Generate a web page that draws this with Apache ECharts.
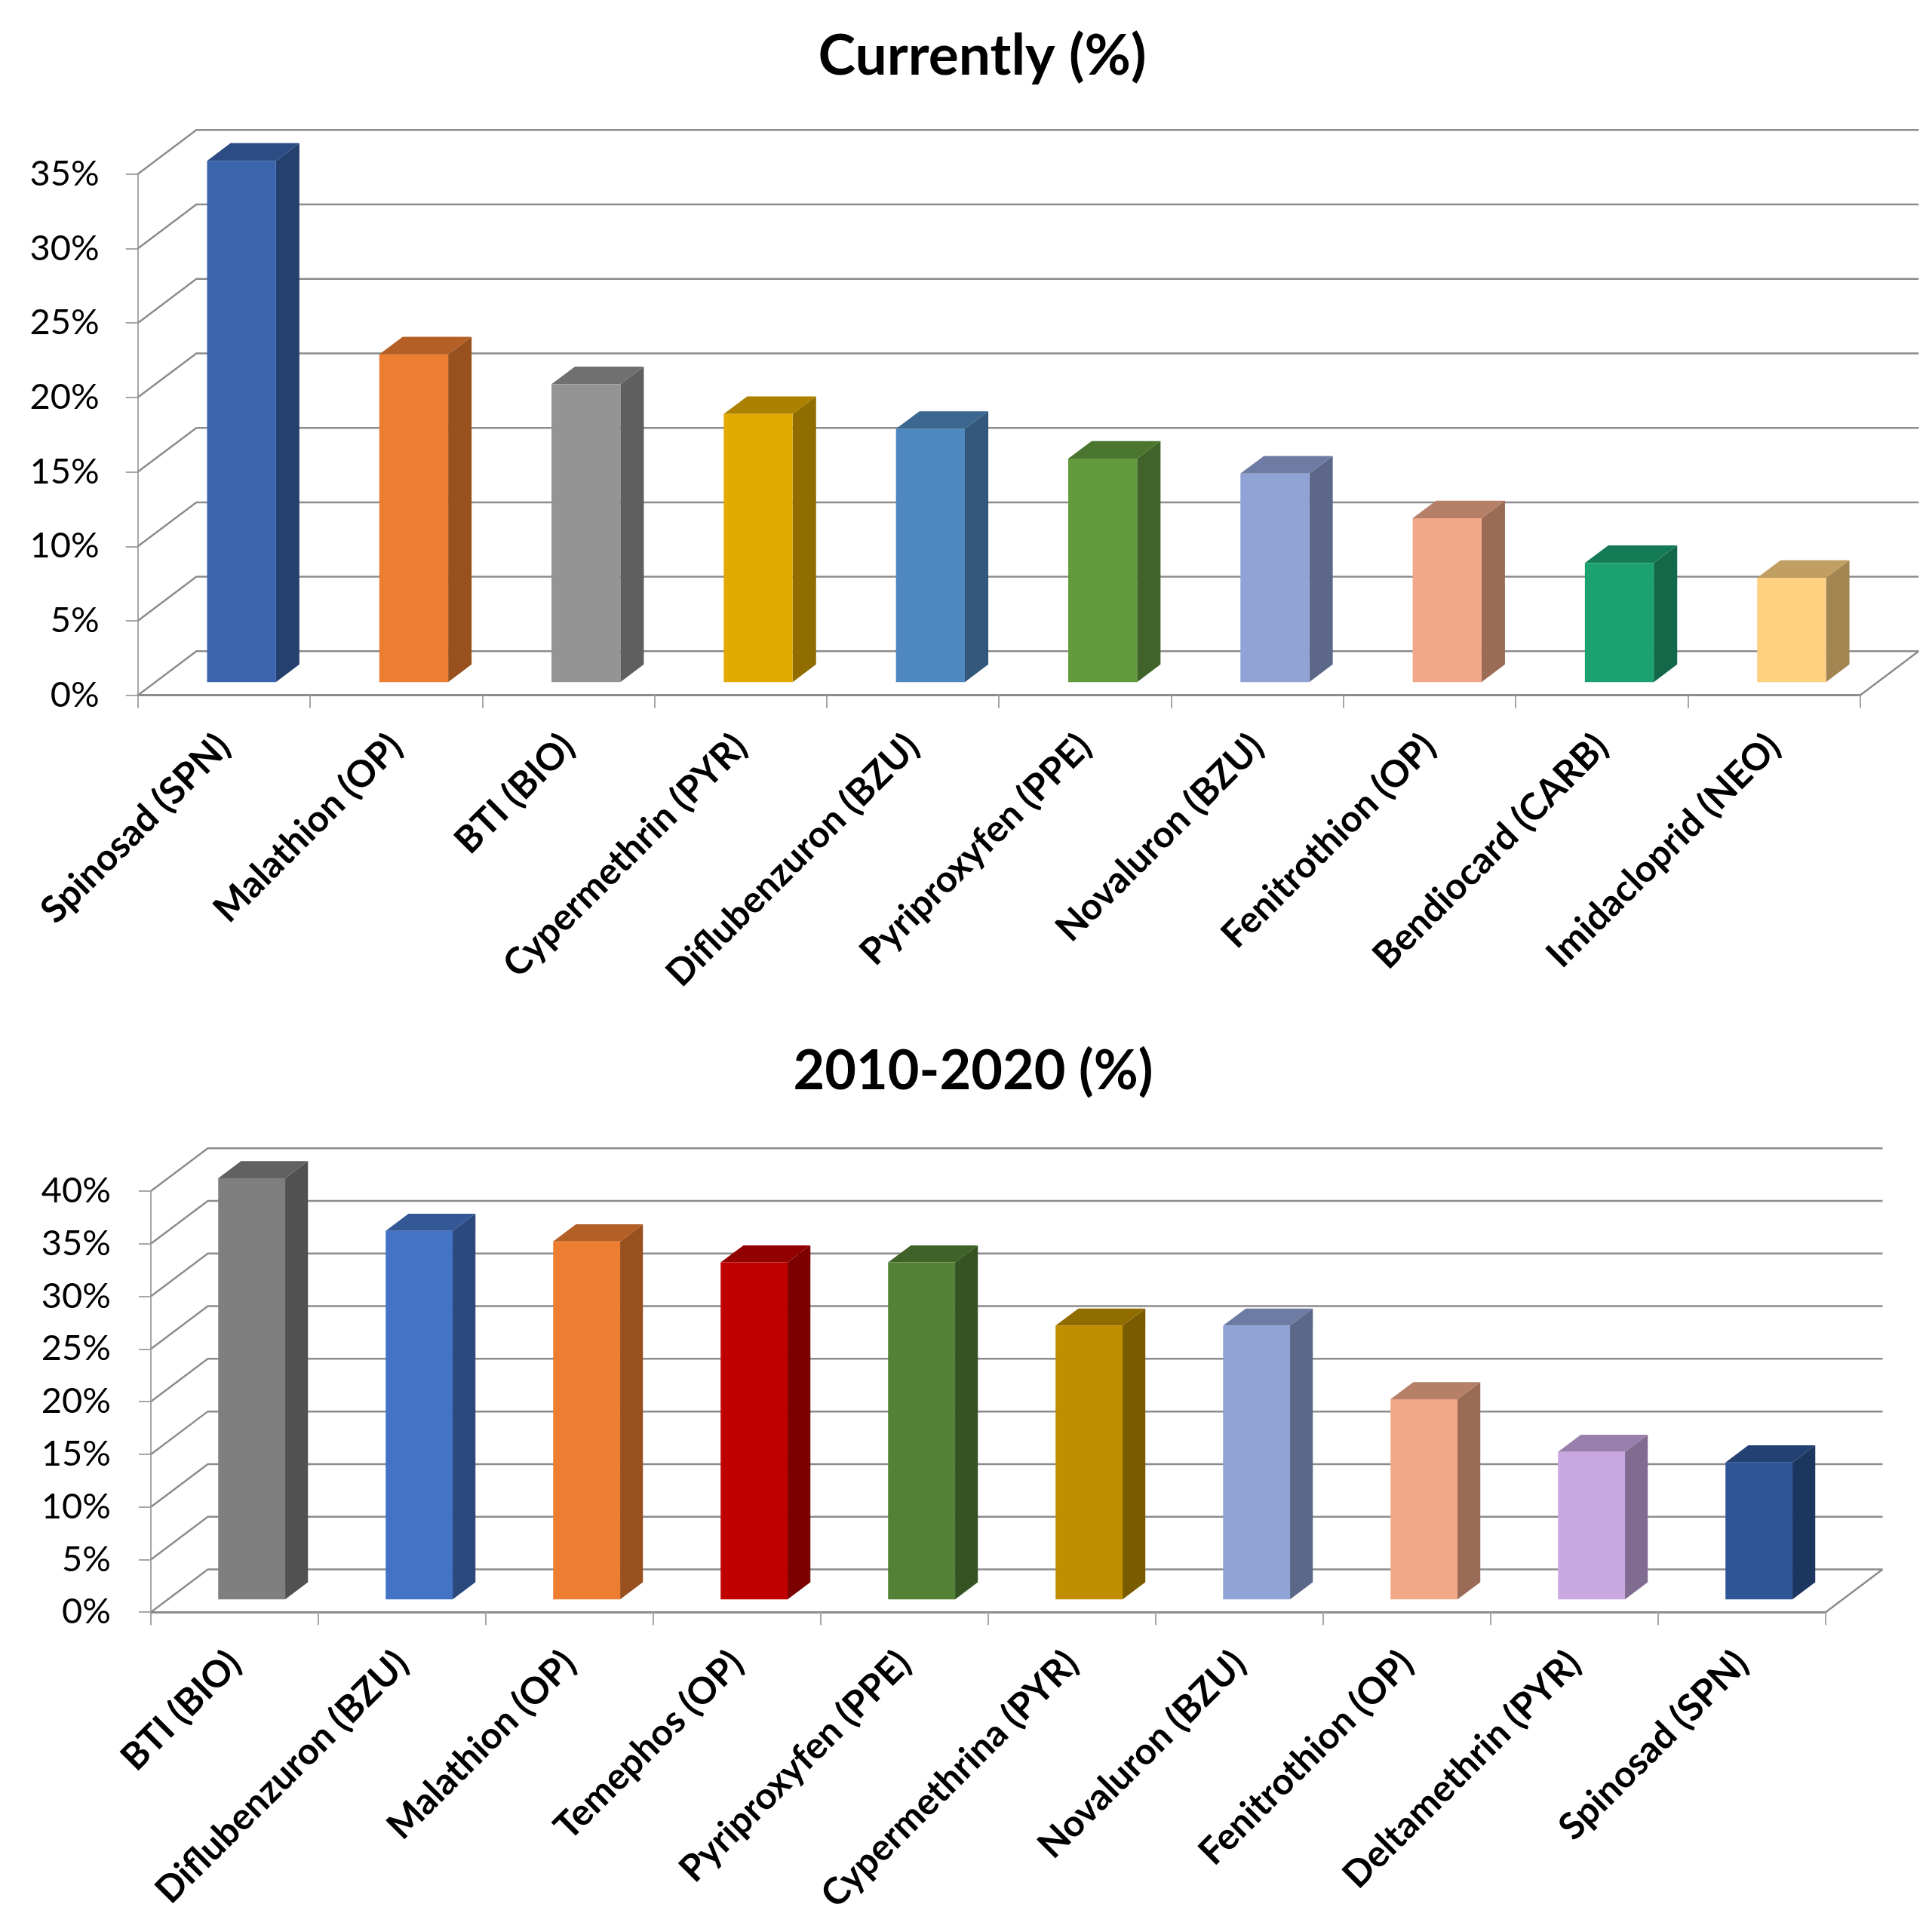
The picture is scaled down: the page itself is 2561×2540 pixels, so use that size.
<!DOCTYPE html>
<html>
<head>
<meta charset="utf-8">
<title>Insecticide use</title>
<script src="https://cdn.jsdelivr.net/npm/echarts@6/dist/echarts.min.js"></script>
<style>
  html, body { margin: 0; padding: 0; background: #ffffff; }
  #chart { width: 2561px; height: 2540px; }
</style>
</head>
<body>
<div id="chart"></div>
<script>
// Insecticides in use now
const currentCategories = ['Spinosad (SPN)', 'Malathion (OP)', 'BTI (BIO)', 'Cypermethrin (PYR)', 'Diflubenzuron (BZU)',
  'Pyriproxyfen (PPE)', 'Novaluron (BZU)', 'Fenitrothion (OP)', 'Bendiocard (CARB)', 'Imidacloprid (NEO)'];
const currentValues = [35, 22, 20, 18, 17, 15, 14, 11, 8, 7];

// Insecticides used during 2010-2020
const decadeCategories = ['BTI (BIO)', 'Diflubenzuron (BZU)', 'Malathion (OP)', 'Temephos (OP)', 'Pyriproxyfen (PPE)',
  'Cypermethrina (PYR)', 'Novaluron (BZU)', 'Fenitrothion (OP)', 'Deltamethrin (PYR)', 'Spinosad (SPN)'];
const decadeValues = [40, 35, 34, 32, 32, 26, 26, 19, 14, 13];

// Value-axis ticks (percent)
const currentTicks = [0, 5, 10, 15, 20, 25, 30, 35];
const decadeTicks = [0, 5, 10, 15, 20, 25, 30, 35, 40];

// Front-face colours of the columns
const currentColors = ['#3A64AD', '#ED7D31', '#949494', '#E2AA00', '#4F88BE', '#629B3E', '#91A3D6', '#F0A889', '#1CA271', '#FED080'];
const decadeColors = ['#7F7F7F', '#4472C4', '#ED7D31', '#C00000', '#538135', '#BF8F00', '#8FA3D6', '#F0A889', '#C9A8E2', '#2E5596'];

// Oblique 3-D projection: depth expressed as a share of a category band
const DEPTH_RATIO = 0.34;   // horizontal depth offset / band width
const DEPTH_SLOPE = 0.752;  // vertical rise per horizontal depth unit
const BAR_WIDTH = 0.4;      // column width / band width
const BAR_FRONT = 0.3;      // column front plane (share of floor depth)
const BAR_BACK = 0.7;       // column back plane
const SIDE_SHADE = 0.64;
const TOP_SHADE = 0.76;

const FONT = 'Lato, "Open Sans", sans-serif';
const GRID_COLOR = '#8c8c8c';
const AXIS_COLOR = '#a6a6a6';

function shade(hex, k) {
  const n = parseInt(hex.slice(1), 16);
  const r = Math.round(((n >> 16) & 255) * k);
  const g = Math.round(((n >> 8) & 255) * k);
  const b = Math.round((n & 255) * k);
  return 'rgb(' + r + ',' + g + ',' + b + ')';
}

function depthOf(api) {
  const band = api.size([1, 0])[0];
  const dx = DEPTH_RATIO * band;
  return { band: band, dx: dx, dy: -DEPTH_SLOPE * dx };
}

// Side wall, back wall gridlines and floor outline
function wallItem(params, api) {
  const cs = params.coordSys;
  const d = depthOf(api);
  const v = api.value(0);
  const y = api.coord([0, v])[1];
  const left = cs.x, right = cs.x + cs.width;
  const style = { stroke: GRID_COLOR, lineWidth: 2.5, fill: null };
  const children = [{
    type: 'polyline',
    shape: { points: [[left, y], [left + d.dx, y + d.dy], [right + d.dx, y + d.dy]] },
    style: style
  }];
  if (v === 0) {
    children.push({
      type: 'line',
      shape: { x1: right, y1: y, x2: right + d.dx, y2: y + d.dy },
      style: style
    });
  }
  return { type: 'group', children: children };
}

function barRenderer(colors) {
  return function (params, api) {
    const i = api.value(0), v = api.value(1);
    const base = api.coord([i, 0]);
    const top = api.coord([i, v]);
    const d = depthOf(api);
    const w = BAR_WIDTH * d.band;
    const x0 = base[0] - w / 2 + BAR_FRONT * d.dx;
    const x1 = x0 + w;
    const yb = base[1] + BAR_FRONT * d.dy;
    const yt = top[1] + BAR_FRONT * d.dy;
    const ddx = (BAR_BACK - BAR_FRONT) * d.dx;
    const ddy = (BAR_BACK - BAR_FRONT) * d.dy;
    const c = colors[i];
    return {
      type: 'group',
      children: [
        { type: 'polygon', shape: { points: [[x1, yb], [x1, yt], [x1 + ddx, yt + ddy], [x1 + ddx, yb + ddy]] },
          style: { fill: shade(c, SIDE_SHADE) } },
        { type: 'polygon', shape: { points: [[x0, yt], [x1, yt], [x1 + ddx, yt + ddy], [x0 + ddx, yt + ddy]] },
          style: { fill: shade(c, TOP_SHADE) } },
        { type: 'rect', shape: { x: x0, y: yt, width: w, height: yb - yt },
          style: { fill: c } }
      ]
    };
  };
}

function xAxisFor(gridIndex, cats) {
  return {
    gridIndex: gridIndex,
    type: 'category',
    data: cats,
    boundaryGap: true,
    axisLine: { show: true, lineStyle: { color: GRID_COLOR, width: 3 } },
    axisTick: { show: true, alignWithLabel: false, length: 17, lineStyle: { color: AXIS_COLOR, width: 2 } },
    axisLabel: { interval: 0, rotate: 45, margin: 60, color: '#000', fontFamily: FONT, fontWeight: 'bold', fontSize: 49 },
    splitLine: { show: false }
  };
}

function yAxisFor(gridIndex, ticks, margin) {
  return {
    gridIndex: gridIndex,
    type: 'value',
    min: ticks[0],
    max: ticks[ticks.length - 1],
    interval: ticks[1] - ticks[0],
    axisLine: { show: true, lineStyle: { color: AXIS_COLOR, width: 2 } },
    axisTick: { show: true, length: 16, lineStyle: { color: AXIS_COLOR, width: 2 } },
    axisLabel: { margin: margin, color: '#000', fontFamily: FONT, fontSize: 47, formatter: '{value}%' },
    splitLine: { show: false }
  };
}

const chart = echarts.init(document.getElementById('chart'), null, { renderer: 'canvas' });

chart.setOption({
  backgroundColor: '#ffffff',
  animation: false,
  title: [
    { text: 'Currently (%)', left: 1297, top: 32, textAlign: 'center',
      textStyle: { fontFamily: FONT, fontWeight: 'bold', fontSize: 75, color: '#000' } },
    { text: '2010-2020 (%)', left: 1285, top: 1380, textAlign: 'center',
      textStyle: { fontFamily: FONT, fontWeight: 'bold', fontSize: 72, color: '#000' } }
  ],
  grid: [
    { left: 182.7, top: 230.7, width: 2283, height: 691, containLabel: false },
    { left: 200, top: 1579, width: 2220, height: 560.3, containLabel: false }
  ],
  xAxis: [xAxisFor(0, currentCategories), xAxisFor(1, decadeCategories)],
  yAxis: [yAxisFor(0, currentTicks, 51), yAxisFor(1, decadeTicks, 53)],
  series: [
    { type: 'custom', xAxisIndex: 0, yAxisIndex: 0, z: 1, silent: true,
      data: currentTicks.map(function (t) { return [t]; }), encode: { y: 0 }, renderItem: wallItem },
    { type: 'custom', xAxisIndex: 0, yAxisIndex: 0, z: 2,
      data: currentValues.map(function (v, i) { return [i, v]; }), encode: { x: 0, y: 1 },
      renderItem: barRenderer(currentColors) },
    { type: 'custom', xAxisIndex: 1, yAxisIndex: 1, z: 1, silent: true,
      data: decadeTicks.map(function (t) { return [t]; }), encode: { y: 0 }, renderItem: wallItem },
    { type: 'custom', xAxisIndex: 1, yAxisIndex: 1, z: 2,
      data: decadeValues.map(function (v, i) { return [i, v]; }), encode: { x: 0, y: 1 },
      renderItem: barRenderer(decadeColors) }
  ]
});
</script>
</body>
</html>
